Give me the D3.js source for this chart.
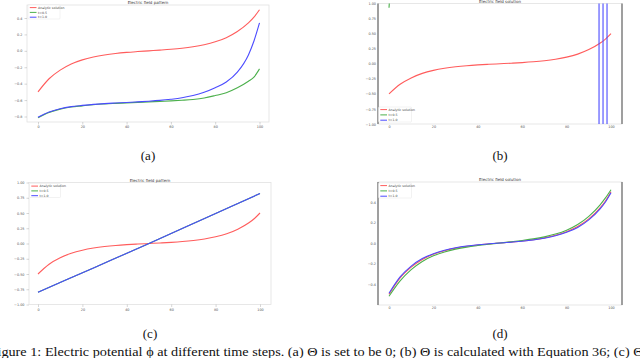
<!DOCTYPE html>
<html>
<head>
<meta charset="utf-8">
<title>Electric potential at different time steps</title>
<style>
	body { margin: 0; background: #fff; }
	svg { display: block; }
	.tick text { font-family: "DejaVu Sans", sans-serif; font-size: 3.4px; fill: #555; }
	.title { font-family: "DejaVu Sans", sans-serif; font-size: 4px; fill: #333; }
	.leg { font-family: "DejaVu Sans", sans-serif; font-size: 3.2px; fill: #444; }
	.sub, .caption { font-family: "Liberation Serif", "Times New Roman", serif; fill: #111; }
</style>
</head>
<body>
<svg id="fig" width="640" height="358"></svg>
<script src="https://d3js.org/d3.v7.min.js"></script>
<script>
// grid positions along x
var xPos = [0, 5, 10, 15, 20, 25, 30, 35, 40, 45, 50, 55, 60, 65, 70, 75, 80, 85, 90, 95, 97.5, 100];

// analytic solution (red), same in every panel
var analytic = [-0.50, -0.34, -0.235, -0.16, -0.11, -0.075, -0.05, -0.032, -0.019, -0.009, 0,
	0.009, 0.019, 0.032, 0.05, 0.075, 0.11, 0.16, 0.235, 0.34, 0.41, 0.50];

// (a) theta = 0
var aGreen = [-0.815, -0.75, -0.71, -0.685, -0.67, -0.656, -0.647, -0.64, -0.634, -0.628, -0.622,
	-0.616, -0.61, -0.602, -0.592, -0.575, -0.545, -0.51, -0.45, -0.37, -0.32, -0.22];
var aBlue = [-0.81, -0.745, -0.705, -0.68, -0.665, -0.652, -0.643, -0.636, -0.63, -0.622, -0.614,
	-0.604, -0.59, -0.572, -0.545, -0.505, -0.45, -0.38, -0.26, -0.05, 0.12, 0.34];

// (b) diverging runs
var bGreenX = [0, 1.2];
var bGreen = [0.93, 1.6];
var bBlueX = [94.6, 94.62, 96.4, 96.42, 98.2, 98.22];
var bBlue = [-60, 60, 60, -60, -60, 60];

// (c) straight line (green sits under blue)
var cX = [0, 25, 50, 75, 100];
var cLine = [-0.80, -0.40, 0, 0.41, 0.82];

// (d) nearly on top of the analytic curve
var dGreen = [-0.52, -0.37, -0.26, -0.18, -0.125, -0.087, -0.06, -0.04, -0.025, -0.012, 0,
	0.012, 0.025, 0.04, 0.06, 0.087, 0.125, 0.18, 0.26, 0.37, 0.44, 0.52];
var dBlue = [-0.49, -0.33, -0.225, -0.152, -0.104, -0.07, -0.046, -0.029, -0.017, -0.008, 0,
	0.008, 0.017, 0.029, 0.046, 0.07, 0.104, 0.152, 0.225, 0.33, 0.40, 0.49];

var xTicks = [0, 20, 40, 60, 80, 100];
var aYTicks = [0.4, 0.2, 0, -0.2, -0.4, -0.6, -0.8];
var bYTicks = [1, 0.75, 0.5, 0.25, 0, -0.25, -0.5, -0.75, -1];
var dYTicks = [0.4, 0.2, 0, -0.2, -0.4];
var legendLabels = ["Analytic solution", "t=0.5", "t=1.0"];
var titles = ["Electric field pattern", "Electric field solution", "Electric field pattern", "Electric field solution"];
var subLabels = ["(a)", "(b)", "(c)", "(d)"];
var captionText = "Figure 1: Electric potential \u03D5 at different time steps. (a) \u0398 is set to be 0; (b) \u0398 is calculated with Equation 36; (c) \u0398";

var RED = "#ff5c5c", GREEN = "#4cb04c", BLUE = "#4b4bff";

var svg = d3.select("#fig");

function zip(xs, ys) { return xs.map((x, i) => [x, ys[i]]); }

var panels = [
	{ id: "a", box: {l: 27, r: 269, t: 5, b: 122}, xr: [38, 259.5], yd: [-0.8, 0.4], yr: [116.5, 18],
	  yTicks: aYTicks, yFmt: d3.format(".1f"), tickLen: 2.5, dark: false,
	  legend: {x: 28, y: 5, w: 32, h: 14}, titleY: 3.6, subY: 160,
	  series: [[xPos, analytic, RED], [xPos, aGreen, GREEN], [xPos, aBlue, BLUE]] },
	{ id: "b", box: {l: 378, r: 622, t: 3.5, b: 124}, xr: [389, 611], yd: [-1, 1], yr: [124, 3.5],
	  yTicks: bYTicks, yFmt: d3.format(".2f"), tickLen: 0, dark: true,
	  legend: {x: 378.5, y: 107, w: 33, h: 15}, titleY: 3, subY: 160,
	  series: [[xPos, analytic, RED], [bGreenX, bGreen, GREEN], [bBlueX, bBlue, BLUE]] },
	{ id: "c", box: {l: 29, r: 271, t: 182.5, b: 304.5}, xr: [38, 260], yd: [-1, 1], yr: [304.5, 182.5],
	  yTicks: bYTicks, yFmt: d3.format(".2f"), tickLen: 2.5, dark: false,
	  legend: {x: 29.5, y: 183.5, w: 31, h: 14}, titleY: 181.5, subY: 338,
	  series: [[xPos, analytic, RED], [cX, cLine, GREEN], [cX, cLine, BLUE]] },
	{ id: "d", box: {l: 378, r: 622, t: 182, b: 305}, xr: [389, 611], yd: [-0.4, 0.4], yr: [284, 202],
	  yTicks: dYTicks, yFmt: d3.format(".1f"), tickLen: 0, dark: true,
	  legend: {x: 378.5, y: 183, w: 33, h: 15}, titleY: 181, subY: 338,
	  series: [[xPos, analytic, RED], [xPos, dGreen, GREEN], [xPos, dBlue, BLUE]] }
];

panels.forEach(function(p, i) {
	var g = svg.append("g");
	var b = p.box;
	var x = d3.scaleLinear().domain([0, 100]).range(p.xr);
	var y = d3.scaleLinear().domain(p.yd).range(p.yr);

	// frame
	g.append("rect").attr("x", b.l).attr("y", b.t).attr("width", b.r - b.l).attr("height", b.b - b.t)
		.attr("fill", "#fff").attr("stroke", "#e2e2e2").attr("stroke-width", 0.8);
	if (p.dark) {
		[b.l, b.r].forEach(function(sx) {
			g.append("line").attr("x1", sx).attr("x2", sx).attr("y1", b.t).attr("y2", b.b)
				.attr("stroke", "#8a8a8a").attr("stroke-width", 1.6);
		});
	}

	// axes
	var xa = g.append("g").attr("transform", `translate(0,${b.b})`)
		.call(d3.axisBottom(x).tickValues(xTicks).tickFormat(d3.format("d")).tickSize(p.tickLen).tickPadding(1.5));
	var ya = g.append("g").attr("transform", `translate(${b.l},0)`)
		.call(d3.axisLeft(y).tickValues(p.yTicks).tickFormat(p.yFmt).tickSize(p.tickLen).tickPadding(2));
	[xa, ya].forEach(function(a) {
		a.select(".domain").remove();
		a.selectAll(".tick line").attr("stroke", "#999").attr("stroke-width", 0.4);
	});

	// clip + lines
	var clipId = "clip-" + p.id;
	g.append("clipPath").attr("id", clipId).append("rect")
		.attr("x", b.l).attr("y", b.t).attr("width", b.r - b.l).attr("height", b.b - b.t);
	var line = d3.line().x(d => x(d[0])).y(d => y(d[1])).curve(d3.curveMonotoneX);
	var plot = g.append("g").attr("clip-path", `url(#${clipId})`);
	p.series.forEach(function(s) {
		plot.append("path").datum(zip(s[0], s[1]))
			.attr("d", line).attr("fill", "none")
			.attr("stroke", s[2]).attr("stroke-width", 1.1);
	});

	// title
	g.append("text").attr("class", "title").attr("x", (b.l + b.r) / 2).attr("y", p.titleY)
		.attr("text-anchor", "middle").text(titles[i]);

	// legend
	var L = p.legend;
	var lg = g.append("g");
	lg.append("rect").attr("x", L.x).attr("y", L.y).attr("width", L.w).attr("height", L.h)
		.attr("fill", "#fff").attr("stroke", "#ddd").attr("stroke-width", 0.4).attr("rx", 0.8);
	[RED, GREEN, BLUE].forEach(function(c, k) {
		var ry = L.y + 2.6 + k * (L.h - 4.4) / 2;
		lg.append("line").attr("x1", L.x + 1.8).attr("x2", L.x + 8.5).attr("y1", ry).attr("y2", ry)
			.attr("stroke", c).attr("stroke-width", 1);
		lg.append("text").attr("class", "leg").attr("x", L.x + 10).attr("y", ry + 1.1).text(legendLabels[k]);
	});

	// sub-figure label
	svg.append("text").attr("class", "sub").attr("x", (b.l + b.r) / 2).attr("y", p.subY)
		.attr("text-anchor", "middle").attr("font-size", 13).text(subLabels[i]);
});

svg.append("text").attr("class", "caption").attr("x", -10.5).attr("y", 355.5)
	.attr("font-size", 13.4).attr("textLength", 654).attr("lengthAdjust", "spacingAndGlyphs")
	.text(captionText);
</script>
</body>
</html>
